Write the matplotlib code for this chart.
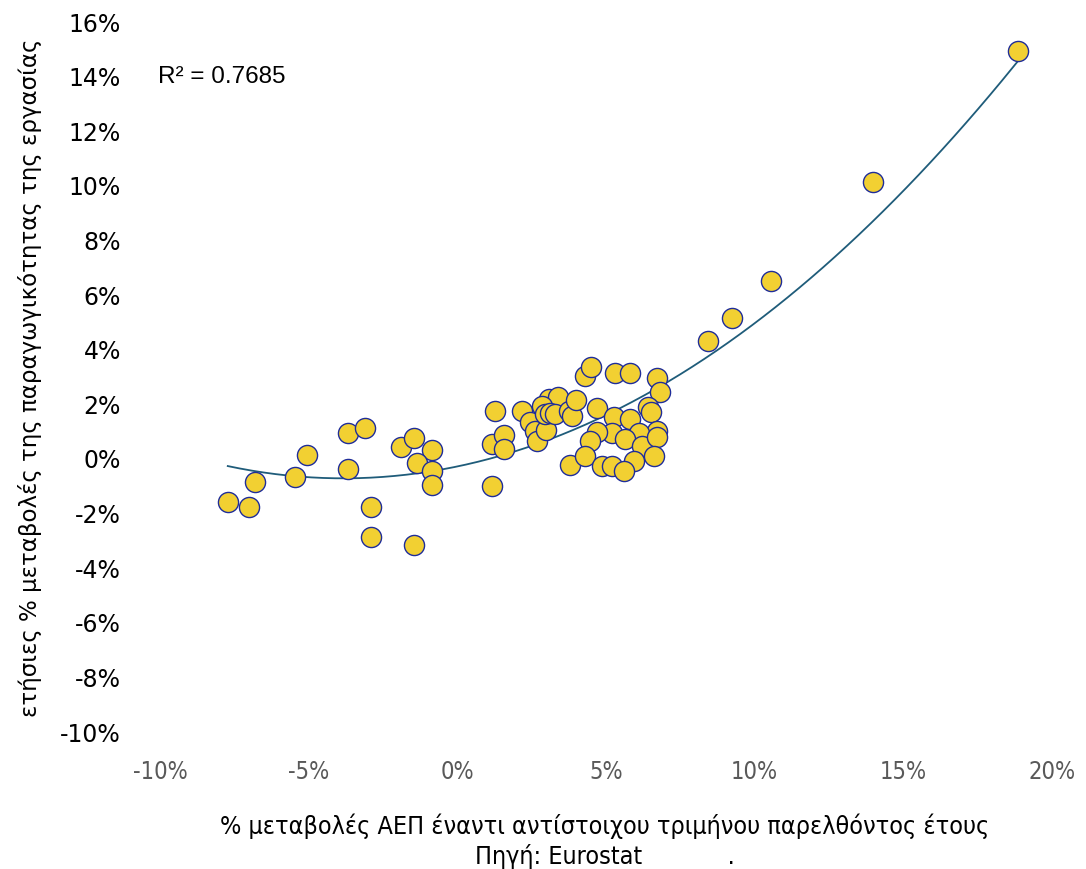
import matplotlib.pyplot as plt
import numpy as np
from matplotlib.ticker import FuncFormatter

# % change of GDP (x) vs annual % change of labour productivity (y)
gdp = [-7.72, -7.01, -6.81, -5.47, -5.07, -3.66, -3.09, -3.66, -2.89, -2.89,
       -1.44, -1.88, -1.44, -0.84, -1.34, -0.84, -0.84,
       1.17, 1.17, 1.28, 1.58, 1.58, 2.18, 2.45, 2.62, 2.68, 2.99,
       3.09, 3.39, 2.85, 2.95, 3.12, 3.29, 3.76, 3.86, 3.99, 3.79,
       4.30, 4.50, 5.30, 5.81, 6.71, 6.81, 4.70, 6.41, 6.51, 5.27,
       5.81, 6.71, 6.11, 5.20, 4.70, 4.46, 5.64, 6.21, 6.71, 4.30,
       6.61, 5.94, 4.87, 5.20, 5.60,
       8.42, 9.23, 10.54, 13.99, 18.85]
prod = [-1.61, -1.79, -0.88, -0.70, 0.11, 0.92, 1.10, -0.40, -1.79, -2.89,
        -3.19, 0.40, 0.73, 0.29, -0.18, -0.48, -0.99,
        0.51, -1.03, 1.72, 0.84, 0.33, 1.72, 1.32, 0.99, 0.62, 1.03,
        2.16, 2.23, 1.90, 1.61, 1.65, 1.61, 1.72, 1.54, 2.12, -0.26,
        3.00, 3.33, 3.11, 3.11, 2.93, 2.42, 1.83, 1.87, 1.68, 1.50,
        1.43, 0.99, 0.92, 0.92, 0.95, 0.62, 0.70, 0.44, 0.77, 0.07,
        0.07, -0.11, -0.29, -0.29, -0.48,
        4.29, 5.13, 6.48, 10.11, 14.91]

xticks = [-10, -5, 0, 5, 10, 15, 20]
yticks = [-10, -8, -6, -4, -2, 0, 2, 4, 6, 8, 10, 12, 14, 16]

fig = plt.figure(figsize=(10.86, 8.7), dpi=100)
ax = fig.add_axes([0.1473, 0.1586, 0.8214, 0.8161])

# polynomial trendline (order 2)
coef = np.polyfit(gdp, prod, 2)
xs = np.linspace(min(gdp), max(gdp), 200)
ax.plot(xs, np.polyval(coef, xs), color='#1f5c7a', lw=1.3, zorder=1)

ax.scatter(gdp, prod, s=210, facecolor='#f2d032', edgecolor='#1f2d9a',
           linewidth=1.0, zorder=2)

ax.set_xlim(-10, 20)
ax.set_ylim(-10, 16)
ax.set_xticks(xticks)
ax.set_yticks(yticks)
ax.xaxis.set_major_formatter(FuncFormatter(lambda v, p: f'{v:.0f}%'))
ax.yaxis.set_major_formatter(FuncFormatter(lambda v, p: f'{v:.0f}%'))
for s in ax.spines.values():
    s.set_visible(False)
ax.tick_params(axis='both', length=0)
ax.tick_params(axis='y', pad=28, labelsize=17)
ax.tick_params(axis='x', pad=20, labelsize=17, labelcolor='#595959')
for lb in ax.get_yticklabels():
    lb.set_fontfamily(['DejaVu Sans'])
    lb.set_fontweight('medium')
for lb in ax.get_xticklabels():
    lb.set_fontfamily(['DejaVu Sans'])
    lb.set_fontstretch('condensed')

ax.text(-10.05, 14, 'R² = 0.7685', fontsize=17.5, va='center',
        family=['Liberation Sans', 'DejaVu Sans'])

fig.text(0.557, 1 - 826 / 870, '% μεταβολές ΑΕΠ έναντι αντίστοιχου τριμήνου παρελθόντος έτους',
         ha='center', va='center', fontsize=18, fontstretch='condensed',
         family=['DejaVu Sans'])
fig.text(0.557, 1 - 857 / 870, 'Πηγή: Eurostat            .',
         ha='center', va='center', fontsize=18, fontstretch='condensed',
         family=['DejaVu Sans'])
fig.text(30 / 1086, 1 - 378 / 870, 'ετήσιες % μεταβολές της παραγωγικότητας της εργασίας',
         ha='center', va='center', rotation=90, fontsize=16.5,
         family=['DejaVu Sans'])

fig.savefig('out.png', dpi=100)
